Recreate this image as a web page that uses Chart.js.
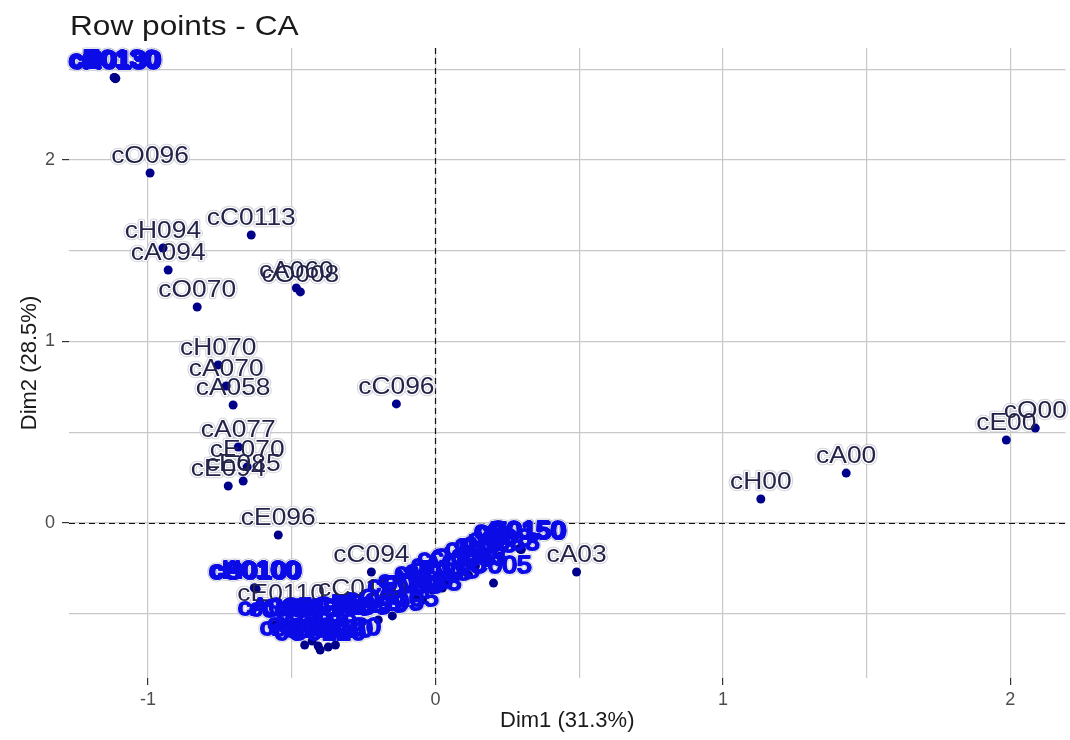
<!DOCTYPE html>
<html>
<head>
<meta charset="utf-8">
<script src="https://cdn.jsdelivr.net/npm/chart.js@4.4.0/dist/chart.umd.min.js"></script>
<style>
  html, body { margin: 0; background: #fff; }
  #contenedor { width: 1070px; height: 740px; }
</style>
</head>
<body>
<div id="contenedor"><canvas id="graficoCA"></canvas></div>
<script>
// Coordenadas de las filas en las dos primeras dimensiones del AC
const nombres = [
  'cO096', 'cC0113', 'cH094', 'cA094', 'cO070', 'cA060', 'cO008', 'cH070', 'cA070', 'cA058',
  'cC096', 'cA077', 'cE070', 'cE085', 'cE094', 'cE096', 'cC094', 'cA03', 'cH00', 'cA00',
  'cE00', 'cO00',
  'cA0130', 'cC0130', 'cE0130', 'cH0130', 'cO0130',
  'cA0100', 'cC0100', 'cH0100', 'cO0100',
  'cE0110', 'cC0110',
  'cA085', 'cC085', 'cH085', 'cO085', 'cA0105', 'cC0105', 'cE0105', 'cH0105', 'cO0105',
  'cA0120', 'cC0120', 'cE0120', 'cH0120', 'cO0120', 'cA0125',
  'cE083', 'cA083', 'cO083', 'cC083', 'cE005', 'cA005', 'cO005', 'cH005', 'cE03', 'cH03', 'cO03',
  'cH083', 'cC005',
  'cA0150', 'cC0150', 'cE0150', 'cO0150'
];
const dim1 = [
  -0.993, -0.641, -0.948, -0.930, -0.829, -0.484, -0.470, -0.756, -0.728, -0.704,
  -0.136, -0.686, -0.655, -0.669, -0.721, -0.547, -0.223, 0.491, 1.132, 1.429,
  1.986, 2.087,
  -1.115, -1.112, -1.118, -1.114, -1.116,
  -0.627, -0.624, -0.630, -0.626,
  -0.537, -0.254,
  -0.557, -0.515, -0.470, -0.425, -0.373, -0.314, -0.254, -0.199, -0.150,
  -0.429, -0.401, -0.373, -0.348, -0.408, -0.455,
  -0.105, -0.070, -0.045, -0.010, 0.024, 0.045, 0.073, 0.115, 0.139, 0.174, 0.226,
  0.230, 0.202,
  0.296, 0.293, 0.299, 0.295
];
const dim2 = [
  1.928, 1.587, 1.515, 1.394, 1.190, 1.295, 1.273, 0.871, 0.755, 0.650,
  0.656, 0.419, 0.309, 0.231, 0.204, -0.066, -0.270, -0.270, 0.132, 0.275,
  0.457, 0.523,
  2.452, 2.450, 2.455, 2.448, 2.453,
  -0.360, -0.363, -0.357, -0.362,
  -0.485, -0.457,
  -0.562, -0.567, -0.573, -0.567, -0.562, -0.556, -0.545, -0.534, -0.512,
  -0.650, -0.700, -0.683, -0.672, -0.678, -0.672,
  -0.441, -0.413, -0.424, -0.369, -0.358, -0.325, -0.292, -0.287, -0.237, -0.215, -0.182,
  -0.204, -0.331,
  -0.143, -0.140, -0.146, -0.144
];

// Marcas principales (con etiqueta) y líneas de rejilla
const ticksX = [-1, 0, 1, 2];
const ticksY = [0, 1, 2];
const rejillaX = [-1, -0.5, 0, 0.5, 1, 1.5, 2];
const rejillaY = [-0.5, 0, 0.5, 1, 1.5, 2, 2.5];

const FUENTE = '"Liberation Sans", Arial, sans-serif';
const ESCALA_TEXTO = 1.1;

// Líneas discontinuas en x = 0 e y = 0
const ejesCero = {
  id: 'ejesCero',
  beforeDatasetsDraw(chart) {
    const { ctx, chartArea: a, scales: { x, y } } = chart;
    const x0 = Math.round(x.getPixelForValue(0)) + 0.5;
    const y0 = Math.round(y.getPixelForValue(0)) + 0.5;
    ctx.save();
    ctx.strokeStyle = '#111';
    ctx.lineWidth = 1.2;
    ctx.setLineDash([6, 4]);
    ctx.beginPath();
    ctx.moveTo(x0, a.top); ctx.lineTo(x0, a.bottom);
    ctx.moveTo(a.left, y0); ctx.lineTo(a.right, y0);
    ctx.stroke();
    ctx.restore();
  }
};

// Cajas de las etiquetas, para saber cuáles quedan amontonadas
function cajasEtiquetas(chart) {
  const ctx = chart.ctx;
  ctx.save();
  ctx.font = '24px ' + FUENTE;
  const cajas = chart.getDatasetMeta(0).data.map((pt, i) => {
    const w = ctx.measureText(nombres[i]).width * ESCALA_TEXTO;
    return { x: pt.x, y: pt.y - 10, l: pt.x - w / 2, r: pt.x + w / 2, t: pt.y - 27, b: pt.y - 10 };
  });
  ctx.restore();
  cajas.forEach((c, i) => {
    let n = 0;
    cajas.forEach((d, j) => {
      if (i === j) return;
      const ox = Math.min(c.r, d.r) - Math.max(c.l, d.l);
      const oy = Math.min(c.b, d.b) - Math.max(c.t, d.t);
      if (ox > 0 && oy > 0 && ox * oy > 0.35 * (c.r - c.l) * (c.b - c.t)) n++;
    });
    c.amontonada = n >= 2;
  });
  return cajas;
}

function dibujarEtiquetas(chart, pasadas) {
  const ctx = chart.ctx;
  const cajas = cajasEtiquetas(chart);
  ctx.save();
  ctx.font = '24px ' + FUENTE;
  ctx.textAlign = 'center';
  ctx.textBaseline = 'alphabetic';
  ctx.lineJoin = 'round';
  pasadas.forEach(p => {
    cajas.forEach((c, i) => {
      const estilo = c.amontonada ? p.pila : p.sola;
      if (!estilo) return;
      ctx.save();
      ctx.translate(c.x, c.y);
      ctx.scale(ESCALA_TEXTO, 1);
      if (estilo.ancho) {
        ctx.strokeStyle = estilo.color;
        ctx.lineWidth = estilo.ancho;
        ctx.strokeText(nombres[i], 0, 0);
      } else {
        ctx.fillStyle = estilo.color;
        ctx.fillText(nombres[i], 0, 0);
      }
      ctx.restore();
    });
  });
  ctx.restore();
}

// Texto de cada fila encima de su punto
const etiquetasFilas = {
  id: 'etiquetasFilas',
  beforeDatasetsDraw(chart) {
    dibujarEtiquetas(chart, [
      { sola: { color: 'rgba(175,175,190,0.55)', ancho: 4.5 }, pila: { color: 'rgba(175,175,190,0.55)', ancho: 5 } },
      { sola: { color: '#ffffff', ancho: 2.5 }, pila: { color: '#ffffff', ancho: 3 } }
    ]);
  },
  afterDatasetsDraw(chart) {
    dibujarEtiquetas(chart, [
      { pila: { color: '#0c0ce6', ancho: 2.2 } },
      { sola: { color: '#24244a' }, pila: { color: '#0c0ce6' } }
    ]);
  }
};

// Título arriba a la izquierda
const tituloGrafico = {
  id: 'tituloGrafico',
  afterDraw(chart) {
    const ctx = chart.ctx;
    ctx.save();
    ctx.font = '28px ' + FUENTE;
    ctx.fillStyle = '#1a1a1a';
    ctx.textBaseline = 'alphabetic';
    ctx.translate(70, 35);
    ctx.scale(1.13, 1);
    ctx.fillText('Row points - CA', 0, 0);
    ctx.restore();
  }
};

const ctx = document.getElementById('graficoCA').getContext('2d');
const graficoCA = new Chart(ctx, {
  type: 'scatter',
  data: {
    datasets: [{
      data: dim1.map((v, i) => ({ x: v, y: dim2[i] })),
      backgroundColor: '#00008b',
      borderWidth: 0,
      pointRadius: 4.5,
      pointHoverRadius: 4.5
    }]
  },
  options: {
    responsive: true,
    maintainAspectRatio: false,
    devicePixelRatio: 1,
    animation: false,
    events: [],
    layout: { padding: { top: 48, right: 0, bottom: 0, left: 0 } },
    plugins: {
      legend: { display: false },
      tooltip: { enabled: false }
    },
    scales: {
      x: {
        type: 'linear',
        min: -1.275,
        max: 2.192,
        afterBuildTicks: s => { s.ticks = rejillaX.map(v => ({ value: v })); },
        afterFit: s => { s.height = 62; },
        border: { display: false },
        grid: {
          color: '#c8c8c8',
          lineWidth: 1.2,
          tickLength: 7,
          tickColor: c => ticksX.includes(c.tick.value) ? '#333' : 'rgba(0,0,0,0)'
        },
        ticks: {
          autoSkip: false,
          maxRotation: 0,
          padding: 4,
          color: '#4d4d4d',
          font: { family: FUENTE, size: 18 },
          callback: v => ticksX.includes(v) ? String(v) : ''
        },
        title: {
          display: true,
          text: 'Dim1 (31.3%)',
          color: '#1a1a1a',
          font: { family: FUENTE, size: 22 },
          padding: { top: 0, bottom: 6 }
        }
      },
      y: {
        type: 'linear',
        min: -0.854,
        max: 2.617,
        afterBuildTicks: s => { s.ticks = rejillaY.map(v => ({ value: v })); },
        afterFit: s => { s.width = 69; },
        border: { display: false },
        grid: {
          color: '#c8c8c8',
          lineWidth: 1.2,
          tickLength: 7,
          tickColor: c => ticksY.includes(c.tick.value) ? '#333' : 'rgba(0,0,0,0)'
        },
        ticks: {
          autoSkip: false,
          padding: 7,
          color: '#4d4d4d',
          font: { family: FUENTE, size: 18 },
          callback: v => ticksY.includes(v) ? String(v) : ''
        },
        title: {
          display: true,
          text: 'Dim2 (28.5%)',
          color: '#1a1a1a',
          font: { family: FUENTE, size: 22 },
          padding: { top: 17, bottom: 0 }
        }
      }
    }
  },
  plugins: [ejesCero, etiquetasFilas, tituloGrafico]
});
</script>
</body>
</html>
